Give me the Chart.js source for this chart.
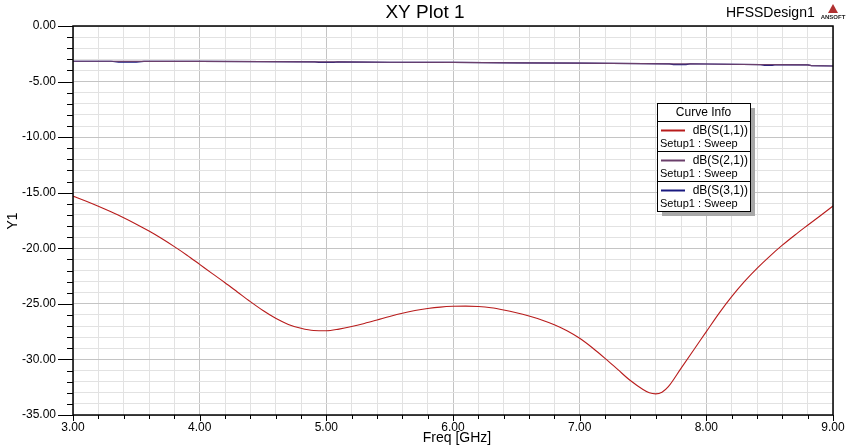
<!DOCTYPE html>
<html>
<head>
<meta charset="utf-8">
<script src="https://cdn.jsdelivr.net/npm/chart.js@4/dist/chart.umd.min.js"></script>
<style>
html,body{margin:0;padding:0;background:#fff;}
#wrap{width:854px;height:447px;position:relative;}
</style>
</head>
<body>
<div id="wrap"><canvas id="c" width="854" height="447"></canvas></div>
<script>
// ---- data ----
const titleText = "XY Plot 1";
const designText = "HFSSDesign1";
const xAxisTitle = "Freq [GHz]";
const yAxisTitle = "Y1";

const freqS11 = [3.0,3.1,3.2,3.3,3.4,3.5,3.6,3.7,3.8,3.9,4.0,4.1,4.2,4.3,4.4,4.5,4.6,4.7,4.8,4.9,5.0,5.1,5.2,5.3,5.4,5.5,5.6,5.7,5.8,5.9,6.0,6.1,6.2,6.3,6.4,6.5,6.6,6.7,6.8,6.9,7.0,7.1,7.2,7.3,7.4,7.5,7.55,7.6,7.65,7.7,7.8,7.9,8.0,8.1,8.2,8.3,8.4,8.5,8.6,8.7,8.8,8.9,9.0];
const s11 = [-15.3,-15.75,-16.22,-16.72,-17.25,-17.83,-18.45,-19.12,-19.85,-20.62,-21.45,-22.28,-23.1,-23.95,-24.8,-25.6,-26.3,-26.85,-27.2,-27.4,-27.42,-27.27,-27.04,-26.76,-26.45,-26.13,-25.84,-25.6,-25.42,-25.29,-25.22,-25.2,-25.24,-25.35,-25.55,-25.8,-26.1,-26.45,-26.88,-27.42,-28.1,-28.95,-29.9,-30.9,-31.9,-32.7,-33.0,-33.1,-32.95,-32.45,-30.8,-29.15,-27.5,-25.85,-24.35,-23.0,-21.8,-20.72,-19.72,-18.8,-17.93,-17.07,-16.2];

const freqS2x = [3.0,3.3,3.36,3.5,3.56,4.0,4.5,4.91,4.94,5.06,5.09,5.5,6.0,6.5,7.0,7.5,7.71,7.74,7.84,7.87,8.0,8.43,8.46,8.52,8.55,8.8,8.83,9.0];
const s21 = [-3.17,-3.17,-3.18,-3.18,-3.18,-3.19,-3.2,-3.22,-3.22,-3.22,-3.22,-3.26,-3.28,-3.31,-3.34,-3.38,-3.4,-3.4,-3.41,-3.41,-3.42,-3.47,-3.47,-3.48,-3.48,-3.5,-3.57,-3.6];
const s31 = [-3.17,-3.17,-3.25,-3.25,-3.18,-3.19,-3.2,-3.22,-3.28,-3.28,-3.22,-3.26,-3.28,-3.31,-3.34,-3.38,-3.4,-3.47,-3.47,-3.41,-3.42,-3.47,-3.54,-3.54,-3.48,-3.5,-3.57,-3.6];

const seriesNames = ["dB(S(1,1))","dB(S(2,1))","dB(S(3,1))"];
const seriesSub = "Setup1 : Sweep";
const seriesColors = ["#b81c1c","#6b3f6b","#1a1a80"];

const xMin = 3, xMax = 9, xStep = 0.2;
const yMin = -35, yMax = 0, yStep = 1;

function pts(xs, ys){ return xs.map((x,i)=>({x:x,y:ys[i]})); }
function isMult(v, m){ const r = v/m; return Math.abs(r-Math.round(r))<1e-6; }

const FONT = "'Liberation Sans', Arial, sans-serif";

const decor = {
  id:'decor',
  afterDraw(chart){
    const ctx = chart.ctx, a = chart.chartArea;
    const xs = chart.scales.x, ys = chart.scales.y;
    ctx.save();
    // frame
    ctx.strokeStyle = '#000'; ctx.lineWidth = 1.5;
    ctx.strokeRect(a.left, a.top, a.right-a.left, a.bottom-a.top);
    // ticks
    ctx.lineWidth = 1;
    ctx.beginPath();
    for(let v=yMin; v<=yMax+1e-9; v+=yStep){
      const y = Math.round(ys.getPixelForValue(v))+0.5;
      const major = isMult(v,5);
      ctx.moveTo(major? a.left-15 : a.left-6, y); ctx.lineTo(a.left, y);
    }
    for(let i=0; i<=Math.round((xMax-xMin)/xStep); i++){
      const f = xMin + i*xStep;
      const x = Math.round(xs.getPixelForValue(f))+0.5;
      const major = isMult(f,1);
      ctx.moveTo(x, a.bottom); ctx.lineTo(x, a.bottom + (major?6:4));
    }
    ctx.stroke();
    // titles
    ctx.fillStyle = '#000';
    ctx.textBaseline = 'middle';
    ctx.textAlign = 'center';
    ctx.font = '19px ' + FONT;
    ctx.fillText(titleText, 425, 13);
    ctx.font = '14px ' + FONT;
    ctx.textAlign = 'left';
    ctx.fillText(designText, 726, 13);
    // ANSOFT logo
    ctx.fillStyle = '#b03030';
    ctx.beginPath(); ctx.moveTo(833,4); ctx.lineTo(828,13); ctx.lineTo(838,13); ctx.closePath(); ctx.fill();
    ctx.fillStyle = '#222';
    ctx.font = 'bold 6px ' + FONT; ctx.textAlign='center';
    ctx.fillText('ANSOFT', 833, 17);
    // axis titles
    ctx.fillStyle = '#000';
    ctx.font = '14px ' + FONT;
    ctx.textAlign = 'center';
    ctx.fillText(xAxisTitle, 457, 438);
    ctx.save();
    ctx.translate(13, 221); ctx.rotate(-Math.PI/2);
    ctx.fillText(yAxisTitle, 0, 0);
    ctx.restore();
    // legend box
    const L=657, T=103, W=93, H=108;
    ctx.fillStyle = '#a8a8a8';
    ctx.fillRect(L+5, T+5, W, H);
    ctx.fillStyle = '#fff';
    ctx.fillRect(L, T, W, H);
    ctx.strokeStyle = '#000'; ctx.lineWidth = 1;
    ctx.strokeRect(L+0.5, T+0.5, W, H);
    ctx.fillStyle = '#000';
    ctx.font = '12px ' + FONT;
    ctx.textAlign = 'center';
    ctx.fillText('Curve Info', L+W/2, 112.5);
    const seps = [121.5, 151.5, 181.5];
    for(let i=0;i<3;i++){
      const top = seps[i];
      ctx.strokeStyle = '#000'; ctx.lineWidth = 1;
      ctx.beginPath(); ctx.moveTo(L, top); ctx.lineTo(L+W, top); ctx.stroke();
      ctx.strokeStyle = seriesColors[i]; ctx.lineWidth = 2;
      ctx.beginPath(); ctx.moveTo(661, top+9); ctx.lineTo(685, top+9); ctx.stroke();
      ctx.fillStyle = '#000';
      ctx.font = '12px ' + FONT;
      ctx.textAlign = 'right';
      ctx.fillText(seriesNames[i], 748, top+9);
      ctx.font = '11px ' + FONT;
      ctx.textAlign = 'left';
      ctx.fillText(seriesSub, 660, top+22.5);
    }
    ctx.restore();
  }
};

new Chart(document.getElementById('c'), {
  type:'line',
  data:{
    datasets:[
      {label:seriesNames[0], data:pts(freqS11,s11), borderColor:seriesColors[0], borderWidth:1.1, pointRadius:0, cubicInterpolationMode:'monotone'},
      {label:seriesNames[1], data:pts(freqS2x,s21), borderColor:seriesColors[1], borderWidth:1.2, pointRadius:0},
      {label:seriesNames[2], data:pts(freqS2x,s31), borderColor:seriesColors[2], borderWidth:1.2, pointRadius:0}
    ]
  },
  options:{
    responsive:false, animation:false,
    layout:{padding:{top:26,right:21,left:0,bottom:0}},
    plugins:{legend:{display:false}, title:{display:false}, tooltip:{enabled:false}},
    scales:{
      x:{
        type:'linear', min:xMin, max:xMax,
        afterFit(s){ s.height = 32; },
        afterBuildTicks(s){ const t=[]; for(let i=0;i<=Math.round((xMax-xMin)/xStep);i++) t.push({value:+(xMin+i*xStep).toFixed(4)}); s.ticks=t; },
        border:{display:false},
        grid:{drawTicks:false, color:(c)=> isMult(c.tick.value,1) ? '#c4c4c4' : '#e2e2e2', lineWidth:1},
        ticks:{autoSkip:false, maxRotation:0, padding:5, color:'#000', font:{family:FONT,size:12},
          callback:(v)=> isMult(v,1) ? Number(v).toFixed(2) : ''}
      },
      y:{
        type:'linear', min:yMin, max:yMax,
        afterFit(s){ s.width = 73; },
        afterBuildTicks(s){ const t=[]; for(let v=yMin; v<=yMax; v+=yStep) t.push({value:v}); s.ticks=t; },
        border:{display:false},
        grid:{drawTicks:false, color:(c)=> isMult(c.tick.value,5) ? '#c4c4c4' : '#e2e2e2', lineWidth:1},
        ticks:{autoSkip:false, padding:17, color:'#000', font:{family:FONT,size:12},
          callback:(v)=> isMult(v,5) ? Number(v).toFixed(2) : ''}
      }
    }
  },
  plugins:[decor]
});
</script>
</body>
</html>
